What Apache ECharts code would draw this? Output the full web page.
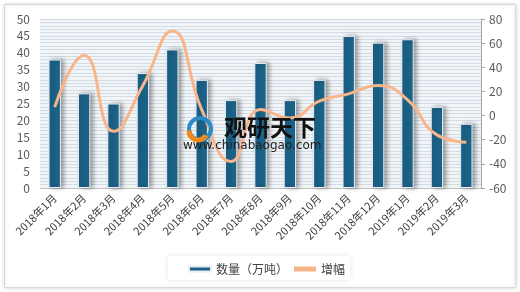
<!DOCTYPE html>
<html>
<head>
<meta charset="utf-8">
<script src="https://cdn.jsdelivr.net/npm/echarts@6/dist/echarts.min.js"></script>
<style>html,body{margin:0;padding:0;background:#fff;}#c{width:520px;height:292px;}</style>
</head>
<body>
<div id="c"></div>
<script>
var categories = ['2018年1月','2018年2月','2018年3月','2018年4月','2018年5月','2018年6月','2018年7月','2018年8月','2018年9月','2018年10月','2018年11月','2018年12月','2019年1月','2019年2月','2019年3月'];
var quantity = [38, 28, 25, 34, 41, 32, 26, 37, 26, 32, 45, 43, 44, 24, 19];
var growth = [7, 50, -13, 25, 70, 5, -38, 5, -2, 12, 18, 25, 13, -16, -22];
var leftTicks = [0, 50, 5];
var rightTicks = [-60, 80, 20];

var chart = echarts.init(document.getElementById('c'), null, {renderer: 'canvas'});
var font = '"Microsoft YaHei","Noto Sans CJK SC",sans-serif';
chart.setOption({
  animation: false,
  backgroundColor: '#ffffff',
  graphic: [
    {type: 'rect', left: 4, top: 4, shape: {width: 511, height: 283}, style: {fill: '#fff', stroke: '#d9d9d9', lineWidth: 1, shadowBlur: 4, shadowColor: 'rgba(0,0,0,0.15)'}, z: -10},
    {type: 'rect', left: 168, top: 256, shape: {width: 182, height: 24}, style: {fill: '#fff', shadowBlur: 6, shadowColor: 'rgba(0,0,0,0.10)'}, z: -5},
    {type: 'text', left: 224, top: 116, style: {text: '观研天下', font: 'bold 23px "Noto Sans CJK SC"', fill: '#111'}, z: 100},
    {type: 'text', left: 183, top: 140, style: {text: 'www.chinabaogao.com', font: '12px "DejaVu Sans"', fill: '#222'}, z: 100},
    {type: 'circle', shape: {cx: 200, cy: 129, r: 11}, style: {fill: 'none', stroke: '#2a8ac8', lineWidth: 4}, z: 100},
    {type: 'arc', shape: {cx: 198, cy: 131, r: 9, startAngle: 0.5, endAngle: 3.2}, style: {fill: 'none', stroke: '#f08a1a', lineWidth: 5}, z: 101}
  ],
  grid: {left: 40, right: 39, top: 19, bottom: 104, show: true, backgroundColor: '#f2f5f8', borderWidth: 0},
  legend: {
    bottom: 12, left: 183,
    itemGap: 6, itemWidth: 22, itemHeight: 5,
    textStyle: {fontSize: 12, color: '#404040', fontFamily: font},
    data: [
      {name: '数量（万吨）', icon: 'rect'},
      {name: '增幅', icon: 'rect', itemStyle: {color: '#f8b58a'}}
    ]
  },
  xAxis: {
    type: 'category', data: categories,
    axisLine: {lineStyle: {color: '#bfbfbf', width: 1}},
    axisTick: {show: false},
    axisLabel: {rotate: 45, fontSize: 11, color: '#404040', interval: 0, margin: 8, fontFamily: font}
  },
  yAxis: [
    {type: 'value', min: leftTicks[0], max: leftTicks[1], interval: leftTicks[2], position: 'left',
     axisLine: {show: false}, axisTick: {show: false}, splitLine: {show: false},
     axisLabel: {fontSize: 12, color: '#595959', margin: 10, fontFamily: font}},
    {type: 'value', min: rightTicks[0], max: rightTicks[1], interval: rightTicks[2], position: 'right',
     axisLine: {show: true, lineStyle: {color: '#a6a6a6'}}, axisTick: {show: true, length: 4, lineStyle: {color: '#a6a6a6'}},
     splitLine: {show: false},
     axisLabel: {fontSize: 12, color: '#595959', margin: 8, fontFamily: font}},
    {type: 'value', min: 0, max: 50, interval: 1, show: true, position: 'left',
     axisLine: {show: false}, axisTick: {show: false}, axisLabel: {show: false},
     splitLine: {show: true, lineStyle: {color: '#d3dbe4', width: 1.2}}}
  ],
  series: [
    {name: '数量（万吨）', type: 'bar', yAxisIndex: 0, data: quantity, barWidth: '42%',
     itemStyle: {color: '#1b6388', borderColor: '#e8eef3', borderWidth: 1, shadowColor: 'rgba(0,0,0,0.35)', shadowBlur: 4, shadowOffsetX: 3, shadowOffsetY: 0}},
    {name: '增幅', type: 'line', yAxisIndex: 1, data: growth, smooth: 0.5, showSymbol: false, symbol: 'none',
     lineStyle: {color: '#f8b58a', width: 3}, itemStyle: {color: '#f8b58a'}, z: 5}
  ]
});
</script>
</body>
</html>
